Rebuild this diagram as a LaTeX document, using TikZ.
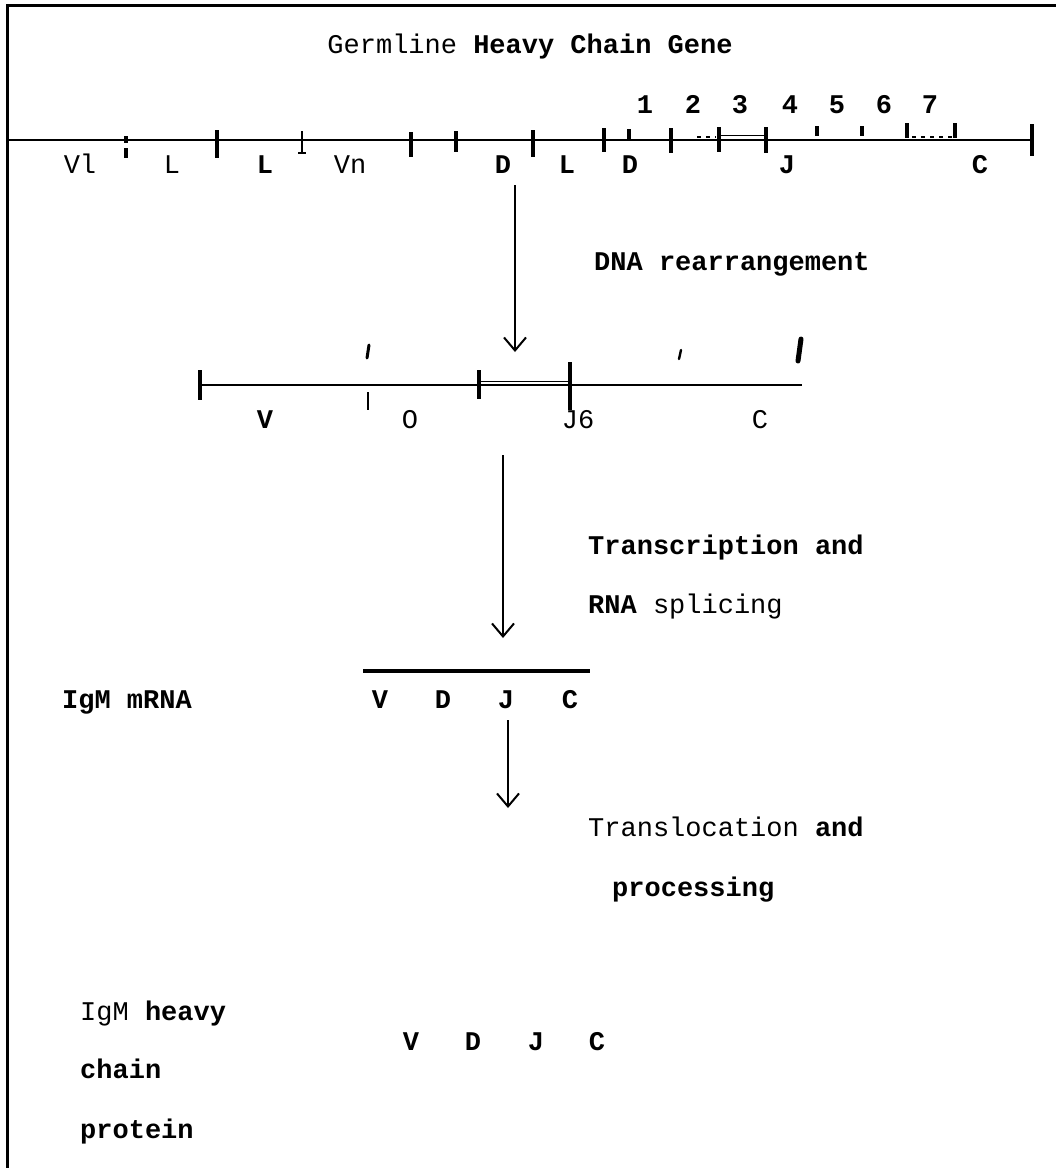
\documentclass[tikz,border=0pt]{standalone}
\usepackage{fontspec}
\setmainfont{Liberation Mono}
\usetikzlibrary{arrows.meta}
\begin{document}
\begin{tikzpicture}[x=1pt,y=-1pt,
  bd/.style={inner sep=0pt, anchor=base, font=\fontsize{27}{32}\selectfont\bfseries},
  lt/.style={inner sep=0pt, anchor=base, font=\fontsize{27}{32}\selectfont},
  frame/.style={line width=3pt},
  gene/.style={line width=2.6pt},
  tick/.style={line width=3.2pt},
  thin tick/.style={line width=1.8pt},
  flow/.style={line width=2pt, -{Straight Barb[length=13pt,width=22pt,line width=2pt]}}]
\useasboundingbox (0,0) rectangle (1056,1168);
% frame
\draw[frame] (1056,5) -- (7,5) -- (7,1168);
% title
\node[lt] (title) at (530,53) {Germline {\bfseries Heavy Chain Gene}};
% numbers
\foreach \n/\x in {1/645,2/693,3/740,4/790,5/837,6/884,7/930}
  \node[bd] (n\n) at (\x,113) {\n};
% gene line 1
\coordinate (g1a) at (7,140);
\coordinate (g1b) at (1032,140);
\draw[gene] (g1a) -- (g1b);
\foreach \x/\a/\b in {217/130/158,411/132/157,456/131/152,533/130/157,604/128/152,671/128/153,719/127/152,766/127/153,1032/124/156}
  \draw[tick] (\x,\a) -- (\x,\b);
\draw[tick] (126,136) -- (126,143);
\draw[tick] (126,148) -- (126,158);
\draw[thin tick] (302,131) -- (302,153);
\draw[thin tick] (298,153) -- (306,153);
\foreach \x/\a/\b in {629/129/140,817/126/136,862/126/136,907/123/138,955/123/138}
  \draw[tick] (\x,\a) -- (\x,\b);
\draw[line width=1.4pt, dash pattern=on 4pt off 5pt] (697,137) -- (716,137);
\draw[line width=1.8pt] (719,135.5) -- (766,135.5);
\draw[line width=1.4pt, dash pattern=on 4pt off 5pt] (912,137) -- (952,137);
% labels row 1
\node[lt] (v1) at (80,173) {Vl};
\node[lt] (l1) at (172,173) {L};
\node[bd] (l2) at (265,173) {L};
\node[lt] (vn) at (350,173) {Vn};
\node[bd] (d1) at (503,173) {D};
\node[bd] (l3) at (567,173) {L};
\node[bd] (d2) at (630,173) {D};
\node[bd] (j1) at (787,173) {J};
\node[bd] (c1) at (980,173) {C};
% arrow 1
\coordinate (a1s) at (515,185);
\coordinate (a1e) at (515,352);
\draw[flow] (a1s) -- (a1e);
\node[bd, anchor=base west] (dna) at (594,270) {DNA rearrangement};
% gene line 2
\coordinate (g2a) at (200,385);
\coordinate (g2b) at (802,385);
\draw[gene] (g2a) -- (g2b);
\draw[tick] (200,370) -- (200,400);
\draw[tick] (479,370) -- (479,399);
\draw[tick] (570,362) -- (570,410);
\draw[line width=1.8pt] (479,381.5) -- (570,381.5);
\draw[thin tick] (368,392) -- (368,410);
\draw[line width=3pt, line cap=round] (369,345) -- (367,358);
\draw[line width=2.4pt, line cap=round] (681,350) -- (679,359);
\draw[line width=5pt, line cap=round] (801,339) -- (798,361);
% labels row 2
\node[bd] (v2) at (265,428) {V};
\node[lt] (o2) at (410,428) {O};
\node[lt] (j6) at (578,428) {J6};
\node[lt] (c2) at (760,428) {C};
% arrow 2
\coordinate (a2s) at (503,455);
\coordinate (a2e) at (503,638);
\draw[flow] (a2s) -- (a2e);
\node[bd, anchor=base west] (tr) at (588,554) {Transcription and};
\node[bd, anchor=base west] (rs) at (588,613) {RNA {\mdseries splicing}};
% mRNA
\coordinate (ma) at (363,671);
\coordinate (mb) at (590,671);
\draw[line width=3.2pt] (ma) -- (mb);
\node[bd, anchor=base west] (igm) at (62,708) {IgM mRNA};
\node[bd] (mv) at (380,708) {V};
\node[bd] (md) at (443,708) {D};
\node[bd] (mj) at (506,708) {J};
\node[bd] (mc) at (570,708) {C};
% arrow 3
\coordinate (a3s) at (508,720);
\coordinate (a3e) at (508,808);
\draw[flow] (a3s) -- (a3e);
\node[lt, anchor=base west] (tl) at (588,836) {Translocation {\bfseries and}};
\node[bd, anchor=base west] (pr) at (612,896) {processing};
% protein
\node[lt, anchor=base west] (ih) at (80,1020) {IgM {\bfseries heavy}};
\node[bd, anchor=base west] (ch) at (80,1078) {chain};
\node[bd, anchor=base west] (pt) at (80,1138) {protein};
\node[bd] (pv) at (411,1050) {V};
\node[bd] (pd) at (473,1050) {D};
\node[bd] (pj) at (536,1050) {J};
\node[bd] (pc) at (597,1050) {C};
\end{tikzpicture}
\end{document}
